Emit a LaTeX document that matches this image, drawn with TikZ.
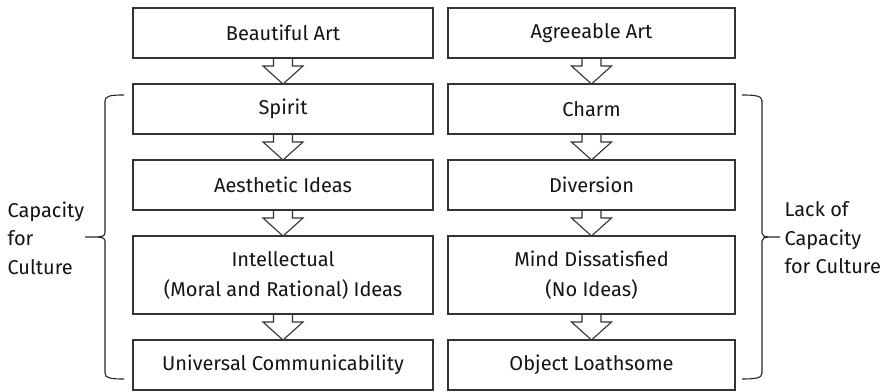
\documentclass[tikz,border=0pt]{standalone}
\usepackage{fontspec}
\setmainfont{Fira Sans}
\usetikzlibrary{positioning,calc}

\tikzset{
    artbox/.style={draw=black!80, line width=1.1pt, rectangle, outer sep=0pt, minimum height=50pt, align=center, text=black!92, font=\fontsize{20}{30}\selectfont},
    leftbox/.style={artbox, minimum width=300pt},
    rightbox/.style={artbox, minimum width=287pt},
    sidelabel/.style={anchor=west, align=left, text=black!92, font=\fontsize{20}{28.5}\selectfont},
    bracket/.style={draw=black!85, line width=1.1pt},
}

% hollow block arrow from the bottom of one box to the top of the next
\newcommand{\blockarrow}[2]{%
    \draw [black!80, line width=1.1pt, line join=miter] ($(#1.south)+(-9.5pt,0)$) -- ++(0,-8pt) -- ++(-10.5pt,0) -- (#2.north) -- ++(20pt,18pt) -- ++(-10.5pt,0) -- ++(0,8pt);}

\begin{document}
\begin{tikzpicture}[x=1pt, y=1pt]
    \useasboundingbox (0,0) rectangle (886,391);

    \node (beautiful) at (283, 358) [leftbox] {Beautiful Art};
    \node (spirit) [leftbox, below=26pt of beautiful] {Spirit};
    \node (aesthetic) [leftbox, below=26pt of spirit] {Aesthetic Ideas};
    \node (intellectual) [leftbox, below=26pt of aesthetic, minimum height=78pt] {Intellectual\\(Moral and Rational) Ideas};
    \node (universal) [leftbox, below=26pt of intellectual] {Universal Communicability};

    \node (agreeable) at (591.5, 358) [rightbox] {Agreeable Art};
    \node (charm) [rightbox, below=26pt of agreeable] {Charm};
    \node (diversion) [rightbox, below=26pt of charm] {Diversion};
    \node (dissatisfied) [rightbox, below=26pt of diversion, minimum height=78pt] {Mind Dissatisfied\\(No Ideas)};
    \node (loathsome) [rightbox, below=26pt of dissatisfied] {Object Loathsome};

    \blockarrow{beautiful}{spirit}
    \blockarrow{spirit}{aesthetic}
    \blockarrow{aesthetic}{intellectual}
    \blockarrow{intellectual}{universal}

    \blockarrow{agreeable}{charm}
    \blockarrow{charm}{diversion}
    \blockarrow{diversion}{dissatisfied}
    \blockarrow{dissatisfied}{loathsome}

    % braces
    \draw [bracket] (124,296) .. controls (110,296) and (105,295) .. (105,290) -- (105,158) .. controls (105,155) and (101,154) .. (98,154) -- (85,154);
    \draw [bracket] (98,154) .. controls (101,154) and (105,153) .. (105,150) -- (105,18) .. controls (105,13) and (110,12) .. (124,12);

    \draw [bracket] (742,296) .. controls (756,296) and (762,295) .. (762,290) -- (762,158) .. controls (762,155) and (765,154) .. (768,154) -- (780,154);
    \draw [bracket] (768,154) .. controls (765,154) and (762,153) .. (762,150) -- (762,18) .. controls (762,13) and (756,12) .. (742,12);

    \node (capacity) at (4, 153) [sidelabel] {Capacity\\for\\Culture};
    \node (lack) at (781, 153) [sidelabel] {Lack of\\Capacity\\for Culture};
\end{tikzpicture}
\end{document}
